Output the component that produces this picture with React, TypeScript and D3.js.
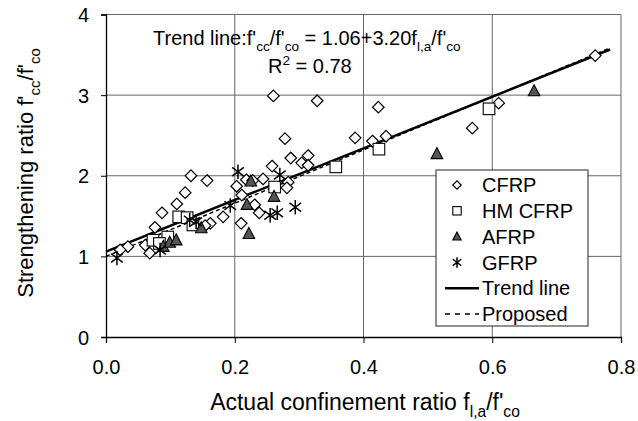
import React, { useEffect, useRef } from "react";
import * as d3 from "d3";

// data: [f_l,a/f'co, f'cc/f'co]
const cfrp: [number, number][] = [
  [0.132, 2.0], [0.157, 1.94], [0.123, 1.79], [0.11, 1.65], [0.087, 1.54], [0.076, 1.36],
  [0.162, 1.41], [0.182, 1.49], [0.068, 1.04], [0.061, 1.14], [0.034, 1.12], [0.022, 1.08],
  [0.154, 1.38], [0.26, 2.99], [0.328, 2.93], [0.278, 2.46], [0.287, 2.22], [0.258, 2.12],
  [0.304, 2.16], [0.314, 2.25], [0.314, 2.13], [0.203, 1.87], [0.218, 1.95], [0.228, 1.94],
  [0.244, 1.96], [0.283, 1.92], [0.281, 1.85], [0.211, 1.76], [0.231, 1.64], [0.238, 1.54],
  [0.21, 1.41], [0.423, 2.85], [0.387, 2.47], [0.414, 2.43], [0.435, 2.49], [0.76, 3.49],
  [0.61, 2.9], [0.569, 2.59],
];
const hmCfrp: [number, number][] = [
  [0.113, 1.49], [0.073, 1.2], [0.126, 1.48], [0.135, 1.39], [0.096, 1.24], [0.083, 1.16],
  [0.262, 1.86], [0.357, 2.11], [0.424, 2.33], [0.595, 2.83],
];
const afrp: [number, number][] = [
  [0.148, 1.35], [0.089, 1.12], [0.099, 1.17], [0.109, 1.2], [0.261, 1.74], [0.219, 1.64],
  [0.222, 1.28], [0.225, 1.93], [0.514, 2.27], [0.665, 3.05],
];
const gfrp: [number, number][] = [
  [0.017, 0.98], [0.13, 1.45], [0.14, 1.43], [0.084, 1.08], [0.205, 2.05], [0.27, 2.01],
  [0.193, 1.63], [0.294, 1.61], [0.255, 1.51], [0.266, 1.54],
];

// trend line 1.06 + 3.20x, proposed 1 + 3.3x
const trendCoef = [1.06, 3.2];
const proposedCoef = [1.0, 3.3];
const lineRange = [0, 0.783];

const xTicks = [0, 0.2, 0.4, 0.6, 0.8];
const yTicks = [0, 1, 2, 3, 4];
const legendItems = ["CFRP", "HM CFRP", "AFRP", "GFRP", "Trend line", "Proposed"];

const FONT = "'Liberation Sans', Arial, Helvetica, sans-serif";

type Part = { t: string; sub?: boolean; sup?: boolean };

function richText(g: any, parts: Part[], size: number) {
  let shift = 0;
  parts.forEach((p) => {
    const target = p.sub ? size * 0.3 : p.sup ? -size * 0.38 : 0;
    g.append("tspan")
      .attr("dy", target - shift)
      .attr("font-size", p.sub || p.sup ? size * 0.68 : size)
      .text(p.t);
    shift = target;
  });
}

export default function App() {
  const ref = useRef<SVGSVGElement>(null);

  useEffect(() => {
    const svg = d3.select(ref.current);
    svg.selectAll("*").remove();

    const x = d3.scaleLinear().domain([0, 0.8]).range([106, 621]);
    const y = d3.scaleLinear().domain([0, 4]).range([337, 14.5]);

    // gridlines
    svg.append("g").selectAll("line").data(xTicks.slice(1)).enter().append("line")
      .attr("x1", (d) => x(d)).attr("x2", (d) => x(d))
      .attr("y1", y(0)).attr("y2", y(4))
      .attr("stroke", "#666").attr("stroke-width", 1);
    svg.append("g").selectAll("line").data(yTicks.slice(1)).enter().append("line")
      .attr("x1", x(0)).attr("x2", x(0.8))
      .attr("y1", (d) => y(d)).attr("y2", (d) => y(d))
      .attr("stroke", "#666").attr("stroke-width", 1);

    // axes
    const xAxis = svg.append("g").attr("transform", `translate(0,${y(0)})`)
      .call(d3.axisBottom(x).tickValues(xTicks).tickSize(6).tickFormat(d3.format(".1f")));
    const yAxis = svg.append("g").attr("transform", `translate(${x(0)},0)`)
      .call(d3.axisLeft(y).tickValues(yTicks).tickSize(5).tickFormat(d3.format("d")));
    [xAxis, yAxis].forEach((a) => {
      a.select(".domain").attr("stroke", "#000").attr("stroke-width", 1.3);
      a.selectAll(".tick line").attr("stroke", "#000");
      a.selectAll("text").attr("font-family", FONT).attr("font-size", 20).attr("fill", "#000");
    });
    xAxis.selectAll("text").attr("dy", 0).attr("y", 37);
    yAxis.selectAll("text").attr("x", -17).attr("dy", "0.35em");

    // lines
    const ln = d3.line<number>().x((d) => x(d));
    svg.append("path")
      .attr("d", ln.y((d) => y(proposedCoef[0] + proposedCoef[1] * d))(lineRange))
      .attr("stroke", "#000").attr("stroke-width", 1.5).attr("stroke-dasharray", "4,3")
      .attr("fill", "none");
    svg.append("path")
      .attr("d", ln.y((d) => y(trendCoef[0] + trendCoef[1] * d))(lineRange))
      .attr("stroke", "#000").attr("stroke-width", 2.5).attr("fill", "none");

    // markers
    const drawDiamond = (g: any, s: number) =>
      g.append("path").attr("d", `M0,${-s}L${s},0L0,${s}L${-s},0Z`)
        .attr("fill", "#fff").attr("stroke", "#000").attr("stroke-width", 1.2);
    const drawSquare = (g: any, s: number) =>
      g.append("rect").attr("x", -s).attr("y", -s).attr("width", 2 * s).attr("height", 2 * s)
        .attr("fill", "#fff").attr("stroke", "#000").attr("stroke-width", 1.1);
    const drawTriangle = (g: any, s: number) =>
      g.append("path").attr("d", `M0,${-s * 1.1}L${s},${s * 0.8}L${-s},${s * 0.8}Z`)
        .attr("fill", "#555").attr("stroke", "#000").attr("stroke-width", 1.1);
    const drawStar = (g: any, s: number) => {
      const k = s * 1.25, a = k * 0.8, b = k * 0.6;
      g.append("path")
        .attr("d", `M0,${-k}L0,${k}M${-a},${-b}L${a},${b}M${-a},${b}L${a},${-b}`)
        .attr("stroke", "#000").attr("stroke-width", 1.5).attr("fill", "none");
    };

    const series: [[number, number][], (g: any, s: number) => void][] = [
      [cfrp, drawDiamond], [hmCfrp, drawSquare], [afrp, drawTriangle], [gfrp, drawStar],
    ];
    series.forEach(([data, draw]) => {
      data.forEach((d) => {
        const g = svg.append("g").attr("transform", `translate(${x(d[0])},${y(d[1])})`);
        draw(g, 5.8);
      });
    });

    // annotation
    const ann = svg.append("text").attr("x", 153).attr("y", 45)
      .attr("font-family", FONT).attr("font-size", 20);
    richText(ann, [
      { t: "Trend line:f'" }, { t: "cc", sub: true }, { t: "/f'" }, { t: "co", sub: true },
      { t: " = 1.06+3.20f" }, { t: "l,a", sub: true }, { t: "/f'" }, { t: "co", sub: true },
    ], 20);
    const r2 = svg.append("text").attr("x", 268).attr("y", 73)
      .attr("font-family", FONT).attr("font-size", 20);
    richText(r2, [{ t: "R" }, { t: "2", sup: true }, { t: " = 0.78" }], 20);

    // legend
    const lg = svg.append("g");
    lg.append("rect").attr("x", 436).attr("y", 170).attr("width", 152).attr("height", 156)
      .attr("fill", "#fff").attr("stroke", "#222").attr("stroke-width", 1);
    legendItems.forEach((name, i) => {
      const cy = 185 + i * 25.8;
      const g = lg.append("g").attr("transform", `translate(457,${cy})`);
      if (i < 4) series[i][1](g, 4.2);
      else {
        lg.append("line").attr("x1", 445).attr("x2", 479).attr("y1", cy).attr("y2", cy)
          .attr("stroke", "#000").attr("stroke-width", i === 4 ? 2.5 : 1.6)
          .attr("stroke-dasharray", i === 4 ? null : "5,5");
      }
      lg.append("text").attr("x", 482).attr("y", cy).attr("dy", "0.36em")
        .attr("font-family", FONT).attr("font-size", 20).text(name);
    });

    // axis titles
    const xt = svg.append("text").attr("x", 365).attr("y", 410).attr("text-anchor", "middle")
      .attr("font-family", FONT).attr("font-size", 23);
    richText(xt, [
      { t: "Actual confinement ratio f" }, { t: "l,a", sub: true }, { t: "/f'" }, { t: "co", sub: true },
    ], 23);
    const yt = svg.append("text").attr("transform", "translate(33,173) rotate(-90)")
      .attr("text-anchor", "middle").attr("font-family", FONT).attr("font-size", 22);
    richText(yt, [
      { t: "Strengthening ratio f'" }, { t: "cc", sub: true }, { t: "/f'" }, { t: "co", sub: true },
    ], 22);
  }, []);

  return (
    <svg ref={ref} width={638} height={421}
      style={{ position: "absolute", left: 0, top: 0, background: "#fff" }} />
  );
}
